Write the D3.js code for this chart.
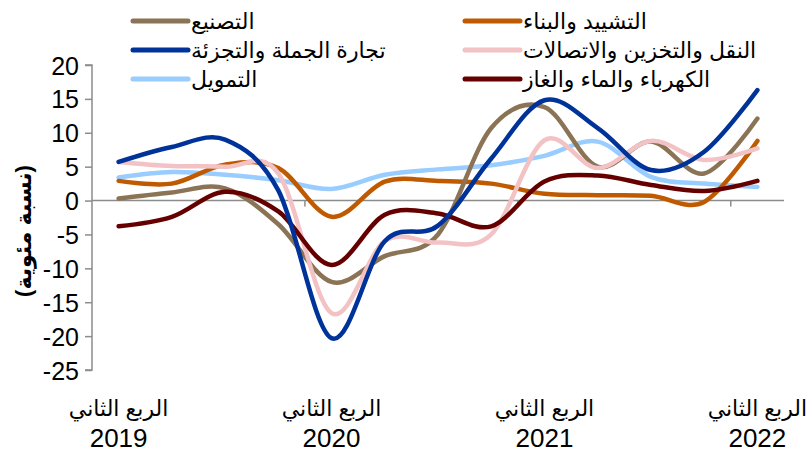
<!DOCTYPE html>
<html><head><meta charset="utf-8">
<script src="https://cdn.jsdelivr.net/npm/d3@7"></script>
<style>
body{margin:0;background:#fff;}
svg text{font-family:"Liberation Sans",Arial,"DejaVu Sans",sans-serif;fill:#000;}
</style></head>
<body><svg id="c" width="810" height="455"></svg>
<script>
const quarters = ["الربع الثاني","الربع الثالث","الربع الرابع","الربع الأول","الربع الثاني","الربع الثالث","الربع الرابع","الربع الأول","الربع الثاني","الربع الثالث","الربع الرابع","الربع الأول","الربع الثاني"];
const years = ["2019","2019","2019","2020","2020","2020","2020","2021","2021","2021","2021","2022","2022"];
const yTicks = [-25,-20,-15,-10,-5,0,5,10,15,20];

const manufacturing = [0.3, 1.2, 1.8, -3.5, -12.0, -8.2, -5.0, 10.7, 13.8, 5.0, 8.7, 4.0, 12.1];
const construction  = [2.9, 2.5, 5.3, 4.8, -2.4, 2.8, 2.9, 2.5, 1.0, 0.8, 0.7, -0.2, 8.8];
const trade         = [5.7, 7.9, 9.0, 1.5, -20.3, -6.0, -3.7, 6.2, 14.8, 10.7, 4.5, 7.2, 16.3];
const transport     = [5.7, 5.1, 5.0, 4.0, -16.6, -6.0, -6.2, -5.0, 8.9, 4.8, 8.8, 6.0, 7.7];
const finance       = [3.4, 4.2, 3.8, 3.0, 1.7, 3.8, 4.6, 5.2, 6.6, 8.7, 3.5, 2.5, 2.0];
const electricity   = [-3.8, -2.4, 1.3, -1.6, -9.5, -2.1, -1.9, -3.8, 2.8, 3.7, 2.3, 1.4, 2.9];

const seriesNames = ["التصنيع","التشييد والبناء","تجارة الجملة والتجزئة","النقل والتخزين والاتصالات","التمويل","الكهرباء والماء والغاز"];
const seriesData = [manufacturing, construction, trade, transport, finance, electricity];
const seriesColors = ["#8B7355","#BF5A00","#003399","#F2C2C4","#99CCFF","#660000"];
const yTitle = "(نسبة مئوية)";

const svg = d3.select("#c");
const x = d3.scaleLinear().domain([-0.5, quarters.length - 0.5]).range([92, 784]);
const y = d3.scaleLinear().domain([-25, 20]).range([370, 65]);

// y axis
const yAxis = svg.append("g").attr("transform","translate(92,0)")
  .call(d3.axisLeft(y).tickValues(yTicks).tickSize(7).tickPadding(6).tickFormat(d=>String(d)));
yAxis.select(".domain").attr("stroke","#8c8c8c").attr("stroke-width",1.5).attr("d","M-7,"+y(20)+"H0V"+y(-25)+"H-7");
yAxis.selectAll(".tick line").attr("stroke","#8c8c8c").attr("stroke-width",1.5);
yAxis.selectAll(".tick text").style("font-size","25px").attr("dy","0.36em");

// x axis at zero
const xg = svg.append("g").attr("transform","translate(0,"+y(0)+")");
xg.append("line").attr("x1",92).attr("x2",784).attr("y1",0).attr("y2",0).attr("stroke","#8c8c8c").attr("stroke-width",1.5);
const boundaries = d3.range(3.5, quarters.length - 1, 4);
xg.selectAll(".xt").data(boundaries).join("line").attr("x1",d=>x(d)).attr("x2",d=>x(d)).attr("y1",0).attr("y2",6).attr("stroke","#8c8c8c").attr("stroke-width",1.5);

// x labels
const labIdx = d3.range(0, quarters.length, 4);
const lab = svg.append("g");
lab.selectAll(".q").data(labIdx).join("text").attr("x",d=>x(d)).attr("y",416).attr("text-anchor","middle").style("font-size","22px").text(d=>quarters[d]);
lab.selectAll(".yr").data(labIdx).join("text").attr("x",d=>x(d)).attr("y",447).attr("text-anchor","middle").style("font-size","26px").text(d=>years[d]);

// y title
svg.append("text").attr("transform","translate(31,231) rotate(-90)").attr("text-anchor","middle").style("font-size","22px").style("font-weight","bold").text(yTitle);

// lines
const line = d3.line().x((d,i)=>x(i)).y(d=>y(d)).curve(d3.curveCardinal.tension(0));
const drawOrder = [4,1,0,3,5,2];
svg.append("g").selectAll("path").data(drawOrder).join("path")
  .attr("d",k=>line(seriesData[k])).attr("fill","none").attr("stroke",k=>seriesColors[k])
  .attr("stroke-width",4.5).attr("stroke-linecap","round").attr("stroke-linejoin","round");

// legend
const leg = svg.append("g");
const legPos = [[133,21],[465,21],[133,50],[465,50],[133,79],[465,79]];
seriesNames.forEach((n,i)=>{
  const [lx,ly] = legPos[i];
  leg.append("line").attr("x1",lx).attr("x2",lx+55).attr("y1",ly).attr("y2",ly).attr("stroke",seriesColors[i]).attr("stroke-width",5).attr("stroke-linecap","round");
  leg.append("text").attr("x",lx+58).attr("y",ly+8).style("font-size","22px").text(n);
});
</script></body></html>
